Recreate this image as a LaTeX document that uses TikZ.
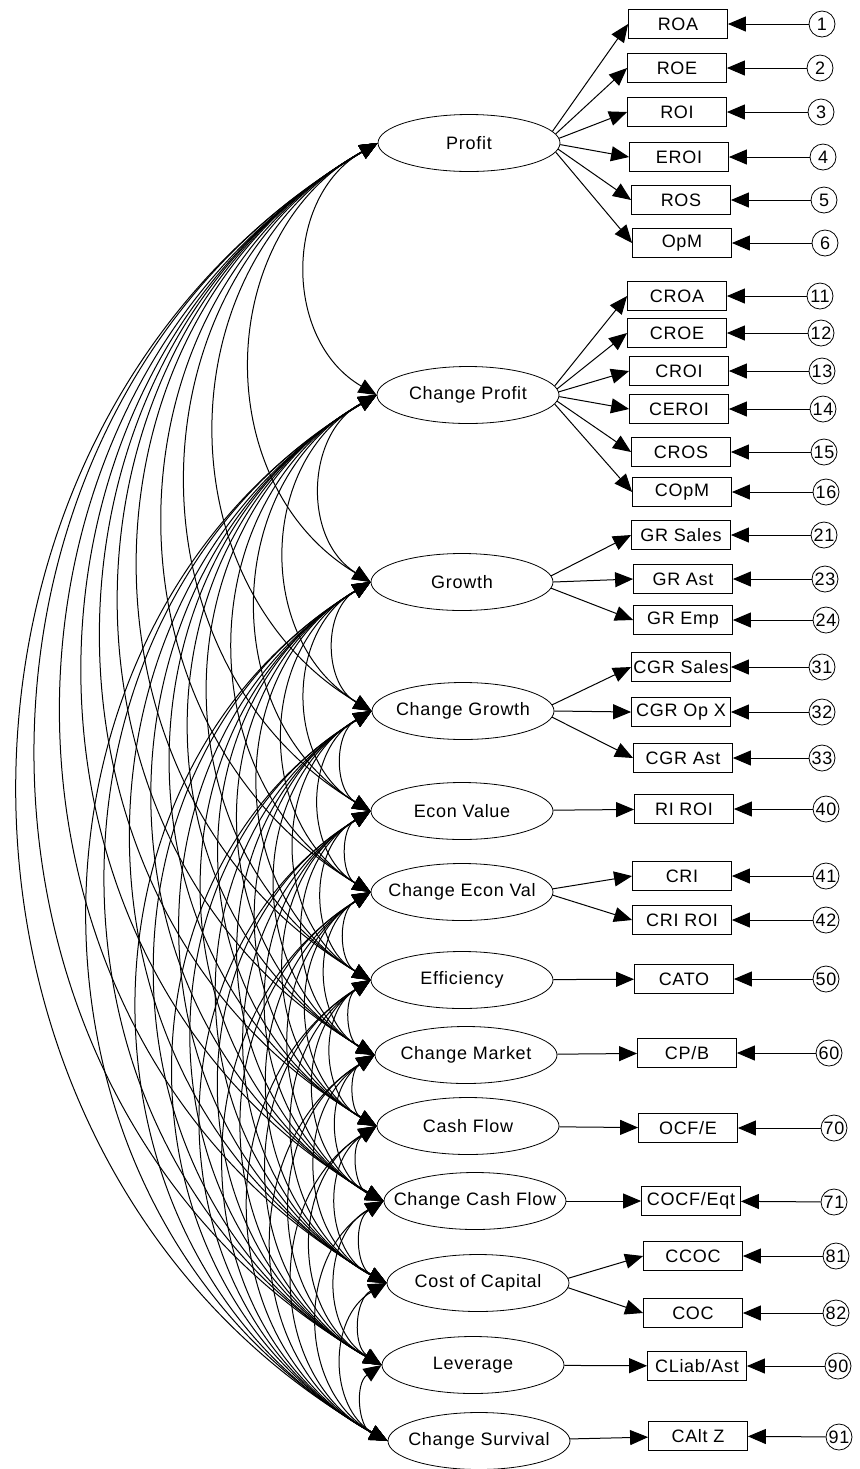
\documentclass[tikz,border=0pt]{standalone}
\usepackage{fontspec}
\setmainfont{Liberation Sans}[LetterSpace=4]
\usetikzlibrary{arrows.meta,shapes.geometric}

\begin{document}
\begin{tikzpicture}[x=0.5pt,y=-0.5pt,
  font=\fontsize{9}{10}\selectfont,
  latent/.style={draw,ellipse,minimum width=91pt,minimum height=28.5pt,inner xsep=-15pt,inner ysep=0pt},
  observed/.style={draw,rectangle,minimum width=49.5pt,minimum height=14.5pt,inner sep=0pt},
  errvar/.style={draw,circle,minimum size=13pt,inner sep=0pt},
  loading/.style={-{Triangle[length=9pt,width=7.5pt]},line width=0.5pt},
  covar/.style={{Triangle[length=9pt,width=7.5pt]}-{Triangle[length=9pt,width=7.5pt]},line width=0.5pt}]
  \useasboundingbox (0,0) rectangle (859,1469);

  % Latent factors
  \node[latent,alias=l1] (profit) at (469,143) {Profit};
  \node[latent,alias=l2] (cprofit) at (468,395) {Change Profit};
  \node[latent,alias=l3] (growth) at (462,582) {Growth};
  \node[latent,alias=l4] (cgrowth) at (463,711) {Change Growth};
  \node[latent,alias=l5] (econ) at (462,811) {Econ Value};
  \node[latent,alias=l6] (cecon) at (462,892) {Change Econ Val};
  \node[latent,alias=l7] (effic) at (462,980) {Efficiency};
  \node[latent,alias=l8] (cmarket) at (466,1055) {Change Market};
  \node[latent,alias=l9] (cash) at (468,1126) {Cash Flow};
  \node[latent,alias=l10] (ccash) at (475,1201) {Change Cash Flow};
  \node[latent,alias=l11] (capcost) at (478,1283) {Cost of Capital};
  \node[latent,alias=l12] (lever) at (473,1365) {Leverage};
  \node[latent,alias=l13] (csurv) at (479,1441) {Change Survival};

  % Indicators
  \node[observed] (roa) at (678,24) {ROA};
  \node[observed] (roe) at (677,68) {ROE};
  \node[observed] (roi) at (677,112) {ROI};
  \node[observed] (eroi) at (679,157) {EROI};
  \node[observed] (ros) at (681,200) {ROS};
  \node[observed] (opm) at (682,243) {OpM};
  \node[observed] (croa) at (677,296) {CROA};
  \node[observed] (croe) at (677,333) {CROE};
  \node[observed] (croi) at (679,371) {CROI};
  \node[observed] (ceroi) at (679,409) {CEROI};
  \node[observed] (cros) at (681,452) {CROS};
  \node[observed] (copm) at (682,492) {COpM};
  \node[observed] (grsales) at (681,535) {GR Sales};
  \node[observed] (grast) at (683,579) {GR Ast};
  \node[observed] (gremp) at (683,620) {GR Emp};
  \node[observed] (cgrsales) at (681,667) {CGR Sales};
  \node[observed] (cgropx) at (681,712) {CGR Op X};
  \node[observed] (cgrast) at (683,758) {CGR Ast};
  \node[observed] (riroi) at (684,809) {RI ROI};
  \node[observed] (cri) at (682,876) {CRI};
  \node[observed] (criroi) at (682,920) {CRI ROI};
  \node[observed] (cato) at (684,979) {CATO};
  \node[observed] (cpb) at (687,1053) {CP/B};
  \node[observed] (ocfe) at (688,1128) {OCF/E};
  \node[observed] (cocf) at (691,1201) {COCF/Eqt};
  \node[observed] (ccoc) at (693,1256) {CCOC};
  \node[observed] (coc) at (693,1313) {COC};
  \node[observed] (cliab) at (697,1366) {CLiab/Ast};
  \node[observed] (caltz) at (698,1436) {CAlt Z};

  % Error terms
  \node[errvar] (e1) at (822,24) {1};
  \node[errvar] (e2) at (820,68) {2};
  \node[errvar] (e3) at (821,112) {3};
  \node[errvar] (e4) at (823,157) {4};
  \node[errvar] (e5) at (824,200) {5};
  \node[errvar] (e6) at (825,243) {6};
  \node[errvar] (e11) at (820,296) {11};
  \node[errvar] (e12) at (821,333) {12};
  \node[errvar] (e13) at (822,371) {13};
  \node[errvar] (e14) at (823,409) {14};
  \node[errvar] (e15) at (824,452) {15};
  \node[errvar] (e16) at (826,492) {16};
  \node[errvar] (e21) at (824,535) {21};
  \node[errvar] (e23) at (825,579) {23};
  \node[errvar] (e24) at (826,620) {24};
  \node[errvar] (e31) at (822,667) {31};
  \node[errvar] (e32) at (822,712) {32};
  \node[errvar] (e33) at (822,758) {33};
  \node[errvar] (e40) at (826,809) {40};
  \node[errvar] (e41) at (826,876) {41};
  \node[errvar] (e42) at (826,920) {42};
  \node[errvar] (e50) at (826,979) {50};
  \node[errvar] (e60) at (829,1053) {60};
  \node[errvar] (e70) at (834,1128) {70};
  \node[errvar] (e71) at (834,1202) {71};
  \node[errvar] (e81) at (836,1256) {81};
  \node[errvar] (e82) at (836,1313) {82};
  \node[errvar] (e90) at (838,1366) {90};
  \node[errvar] (e91) at (839,1437) {91};

  % Loadings
  \foreach \l/\b/\a in {profit/roa/8, profit/roe/6, profit/roi/3, profit/eroi/-1, profit/ros/-4, profit/opm/-6,
      cprofit/croa/6, cprofit/croe/4, cprofit/croi/2, cprofit/ceroi/-1, cprofit/cros/-4, cprofit/copm/-6,
      growth/grsales/4, growth/grast/0, growth/gremp/-4,
      cgrowth/cgrsales/4, cgrowth/cgropx/0, cgrowth/cgrast/-4,
      cecon/cri/2, cecon/criroi/-2, capcost/ccoc/3, capcost/coc/-3}
    \draw[loading] (\l.\a) -- (\b.west);
  \foreach \l/\b in {econ/riroi, effic/cato, cmarket/cpb, cash/ocfe, ccash/cocf, lever/cliab, csurv/caltz}
    \draw[loading] (\l) -- (\b);

  % Errors
  \foreach \e/\b in {e1/roa, e2/roe, e3/roi, e4/eroi, e5/ros, e6/opm,
      e11/croa, e12/croe, e13/croi, e14/ceroi, e15/cros, e16/copm,
      e21/grsales, e23/grast, e24/gremp, e31/cgrsales, e32/cgropx, e33/cgrast,
      e40/riroi, e41/cri, e42/criroi, e50/cato, e60/cpb, e70/ocfe, e71/cocf,
      e81/ccoc, e82/coc, e90/cliab, e91/caltz}
    \draw[loading] (\e) -- (\b);

  % Covariances between all factors
  \foreach \i in {1,...,12}{
    \pgfmathtruncatemacro{\k}{\i+1}
    \foreach \j in {\k,...,13}
      \draw[covar] (l\i.west) to[bend right=60,looseness=1.1] (l\j.west);
  }
\end{tikzpicture}
\end{document}
